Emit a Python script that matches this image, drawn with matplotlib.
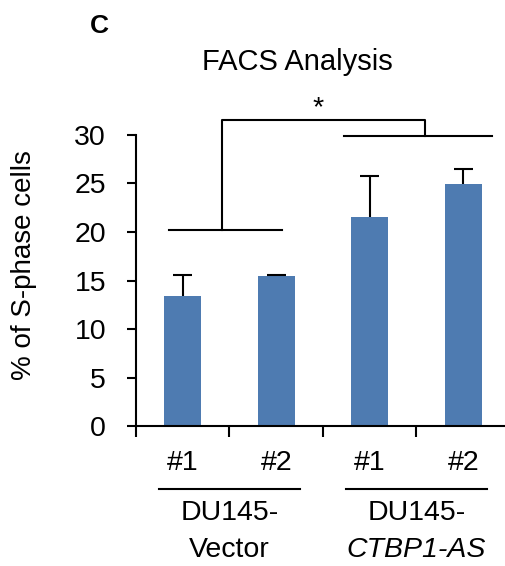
import numpy as np
import matplotlib.pyplot as plt

plt.rcParams['font.family'] = ['Liberation Sans', 'DejaVu Sans']

# valores
clones = ['#1', '#2', '#1', '#2']
s_phase = [13.4, 15.45, 21.5, 24.9]
s_phase_err = [2.2, 0.15, 4.3, 1.6]
groups = [('DU145-', 'Vector', 'normal'), ('DU145-', 'CTBP1-AS', 'italic')]
yticks = [0, 5, 10, 15, 20, 25, 30]

bar_color = '#4E7BB1'
lw = 1.5
fs = 20.5

fig = plt.figure(figsize=(5.05, 5.66), dpi=100)
ax = fig.add_axes([0.2693, 0.2473, 0.7406, 0.5142])

x = np.arange(len(s_phase))
tops = np.array(s_phase) + np.array(s_phase_err)
ax.bar(x, s_phase, width=0.4, color=bar_color, zorder=2)
# só a barra de erro superior, sem traço na base
ax.vlines(x, s_phase, tops, color='black', lw=lw, zorder=3)
ax.hlines(tops, x - 0.1, x + 0.1, color='black', lw=lw, zorder=3)

ax.set_xlim(-0.5, 3.5)
ax.set_ylim(0, 30)
ax.set_yticks(yticks)
ax.tick_params(axis='y', direction='out', length=6.5, width=lw, pad=15, labelsize=fs)
ax.set_xticks([])
ax.set_xticks([-0.5, 0.5, 1.5, 2.5, 3.5], minor=True)
ax.tick_params(axis='x', which='minor', direction='out', length=8, width=lw)
for s in ['top', 'right']:
    ax.spines[s].set_visible(False)
for s in ['left', 'bottom']:
    ax.spines[s].set_linewidth(lw)

# rótulos do eixo x
trans = ax.get_xaxis_transform()
for xi, lab in zip(x, clones):
    ax.text(xi, -0.127, lab, transform=trans, ha='center', va='center', fontsize=fs)
for c, (top, bot, st) in zip([0.5, 2.5], groups):
    ax.plot([c - 0.75, c + 0.75], [-0.2165, -0.2165], color='black', lw=lw,
            transform=trans, clip_on=False)
    ax.text(c, -0.299, top, transform=trans, ha='center', va='center', fontsize=fs)
    ax.text(c, -0.426, bot, transform=trans, ha='center', va='center', fontsize=fs,
            style=st)

# colchetes de significância
ax.plot([-0.15, 1.06], [20.2, 20.2], color='black', lw=lw, clip_on=False)
ax.plot([0.42, 0.42, 2.59, 2.59], [20.2, 31.5, 31.5, 29.9], color='black', lw=lw, clip_on=False)
ax.plot([1.725, 3.31], [29.9, 29.9], color='black', lw=lw, clip_on=False)
ax.text(1.446, 32.0, '*', ha='center', va='baseline', fontsize=fs)

fig.text(0.0475, 0.532, '% of S-phase cells', rotation=90, ha='center', va='center', fontsize=20)
fig.text(0.588, 0.876, 'FACS Analysis', ha='center', va='baseline', fontsize=21)
fig.text(0.178, 0.942, 'C', ha='left', va='baseline', fontsize=19, fontweight='bold')

plt.savefig('out.png', dpi=100)
